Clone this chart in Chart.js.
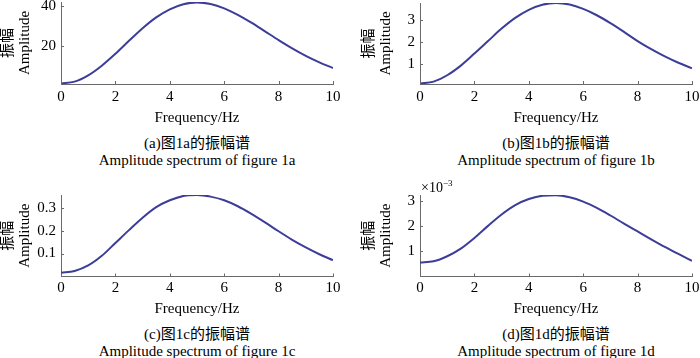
<!DOCTYPE html>
<html>
<head>
<meta charset="utf-8">
<script src="https://cdn.jsdelivr.net/npm/chart.js@4.4.0/dist/chart.umd.min.js"></script>
<style>
  body { margin: 0; background: #fff; }
  #wrap { position: relative; width: 700px; height: 358px; overflow: hidden; }
  canvas { position: absolute; }
  .cap { position: absolute; text-align: center; white-space: nowrap; color: #000;
         font: 15px/17px 'Liberation Serif', 'Noto Sans CJK SC', serif; }
  .exp { position: absolute; white-space: nowrap; color: #000;
         font: 14px/16px 'Liberation Serif', serif; }
  .exp sup { font-size: 9px; line-height: 0; vertical-align: 6px; }
</style>
</head>
<body>
<div id="wrap"></div>
<script>
// Frequency samples (Hz)
var freq = [0, 0.5, 1, 1.5, 2, 2.5, 3, 3.5, 4, 4.5, 5, 5.5, 6, 6.5, 7, 7.5, 8, 8.5, 9, 9.5, 10];

// Amplitude
var ampA = [0.9, 1.8, 5.0, 9.9, 15.9, 22.5, 28.9, 34.4, 38.5, 41.1, 42.0, 41.2, 39.0, 35.7, 31.7, 27.3, 22.9, 18.7, 14.9, 11.6, 8.7];
var ampB = [0.11, 0.20, 0.49, 0.93, 1.48, 2.05, 2.62, 3.11, 3.48, 3.71, 3.79, 3.72, 3.52, 3.23, 2.87, 2.47, 2.05, 1.68, 1.35, 1.06, 0.81];
var ampC = [0.016, 0.024, 0.048, 0.090, 0.146, 0.202, 0.256, 0.302, 0.332, 0.351, 0.355, 0.348, 0.332, 0.306, 0.273, 0.236, 0.197, 0.160, 0.127, 0.097, 0.071];
var ampD = [0.00055, 0.00060, 0.00080, 0.00110, 0.00152, 0.00200, 0.00245, 0.00282, 0.00306, 0.00319, 0.00321, 0.00313, 0.00296, 0.00271, 0.00241, 0.00209, 0.00178, 0.00147, 0.00117, 0.00089, 0.00062];

// Tick labels
var xTicks = [0, 2, 4, 6, 8, 10];
var yTicksA = [20, 40];
var yTicksB = [1, 2, 3];
var yTicksC = [0.1, 0.2, 0.3];
var yTicksD = [0.001, 0.002, 0.003];

var captionsCn = ['(a)图1a的振幅谱', '(b)图1b的振幅谱', '(c)图1c的振幅谱', '(d)图1d的振幅谱'];
var captionsEn = ['Amplitude spectrum of figure 1a', 'Amplitude spectrum of figure 1b',
                  'Amplitude spectrum of figure 1c', 'Amplitude spectrum of figure 1d'];

var lineColor = '#3d3d99';
var axisColor = '#6a6a6a';
var fontFamily = "'Liberation Serif', 'Noto Sans CJK SC', serif";

// layout of each panel (page pixels)
var panels = [
  { x: 0,   y: 0,   h: 130, area: [61, 2, 333, 84],   yMin: 0.6,  yMax: 42.2,   data: ampA, yTicks: yTicksA, tickPad: 5, titlePad: 3.5, yTitlePad: 0,  capTop: 134.5 },
  { x: 350, y: 0,   h: 130, area: [420, 3, 692, 84],  yMin: 0.09, yMax: 3.79,   data: ampB, yTicks: yTicksB, tickPad: 5, titlePad: 3.5, yTitlePad: 11, capTop: 134.5 },
  { x: 0,   y: 178, h: 140, area: [61, 195, 333, 276.5],  yMin: 0, yMax: 0.355,  data: ampC, yTicks: yTicksC, tickPad: 3, titlePad: 0, yTitlePad: 0,  capTop: 326 },
  { x: 350, y: 178, h: 140, area: [420, 195, 692, 276.5], yMin: 0, yMax: 0.00322, data: ampD, yTicks: yTicksD, tickPad: 3, titlePad: 0, yTitlePad: 11, capTop: 326, milli: true }
];

// small inward tick marks, like the original figure
var innerTicks = {
  id: 'innerTicks',
  afterDraw: function(chart) {
    var ctx = chart.ctx, a = chart.chartArea;
    var xs = chart.scales.x, ys = chart.scales.y;
    ctx.save();
    ctx.strokeStyle = axisColor;
    ctx.lineWidth = 1;
    ctx.beginPath();
    xs.ticks.forEach(function(t) {
      var px = Math.round(xs.getPixelForValue(t.value)) + 0.5;
      ctx.moveTo(px, a.bottom);
      ctx.lineTo(px, a.bottom - 3);
    });
    ys.ticks.forEach(function(t) {
      var py = Math.round(ys.getPixelForValue(t.value)) + 0.5;
      ctx.moveTo(a.left, py);
      ctx.lineTo(a.left + 3, py);
    });
    ctx.stroke();
    ctx.restore();
  }
};

var wrap = document.getElementById('wrap');

panels.forEach(function(p, i) {
  var canvas = document.createElement('canvas');
  canvas.width = 350;
  canvas.height = p.h;
  canvas.style.left = p.x + 'px';
  canvas.style.top = p.y + 'px';
  wrap.appendChild(canvas);

  var yWidth = p.area[0] - p.x;
  var xHeight = p.y + p.h - p.area[3];
  var tickFont = { family: fontFamily, size: 15, lineHeight: 1.13 };

  new Chart(canvas.getContext('2d'), {
    type: 'line',
    data: {
      labels: freq,
      datasets: [{
        data: p.data.map(function(v, k) { return { x: freq[k], y: v }; }),
        borderColor: lineColor,
        borderWidth: 2,
        pointRadius: 0,
        fill: false,
        cubicInterpolationMode: 'monotone'
      }]
    },
    options: {
      responsive: false,
      animation: false,
      events: [],
      layout: {
        padding: { left: 0, top: p.area[1] - p.y, right: p.x + 350 - p.area[2], bottom: 0 }
      },
      plugins: { legend: { display: false }, tooltip: { enabled: false } },
      scales: {
        x: {
          type: 'linear',
          min: 0,
          max: 10,
          grid: { display: false, drawTicks: false },
          border: { display: true, color: axisColor, width: 1 },
          ticks: { color: '#000', font: tickFont, padding: p.tickPad, maxRotation: 0 },
          afterBuildTicks: function(scale) {
            scale.ticks = xTicks.map(function(v) { return { value: v }; });
          },
          afterFit: function(scale) {
            scale.height = xHeight;
            scale.paddingLeft = 0; scale.paddingRight = 0;
            scale.paddingTop = 0; scale.paddingBottom = 0;
          },
          title: {
            display: true,
            text: 'Frequency/Hz',
            color: '#000',
            font: tickFont,
            padding: { top: 0, bottom: p.titlePad }
          }
        },
        y: {
          min: p.yMin,
          max: p.yMax,
          grid: { display: false, drawTicks: false },
          border: { display: true, color: axisColor, width: 1 },
          ticks: {
            color: '#000',
            font: tickFont,
            padding: 5,
            callback: function(v) {
              return p.milli ? String(Math.round(v * 1000)) : String(v);
            }
          },
          afterBuildTicks: function(scale) {
            scale.ticks = p.yTicks.map(function(v) { return { value: v }; });
          },
          afterFit: function(scale) {
            scale.width = yWidth;
            scale.paddingLeft = 0; scale.paddingRight = 0;
            scale.paddingTop = 0; scale.paddingBottom = 0;
          },
          title: {
            display: true,
            text: ['振幅', 'Amplitude'],
            color: '#000',
            font: { family: fontFamily, size: 15, lineHeight: 1.13 },
            padding: { top: p.yTitlePad, bottom: 0 }
          }
        }
      }
    },
    plugins: [innerTicks]
  });

  var cap = document.createElement('div');
  cap.className = 'cap';
  cap.style.left = p.area[0] + 'px';
  cap.style.width = (p.area[2] - p.area[0]) + 'px';
  cap.style.top = p.capTop + 'px';
  cap.innerHTML = captionsCn[i] + '<br>' + captionsEn[i];
  wrap.appendChild(cap);

  if (p.milli) {
    var ex = document.createElement('div');
    ex.className = 'exp';
    ex.style.left = (p.area[0] + 1) + 'px';
    ex.style.top = (p.y + 2) + 'px';
    ex.innerHTML = '×10<sup>−3</sup>';
    wrap.appendChild(ex);
  }
});
</script>
</body>
</html>
